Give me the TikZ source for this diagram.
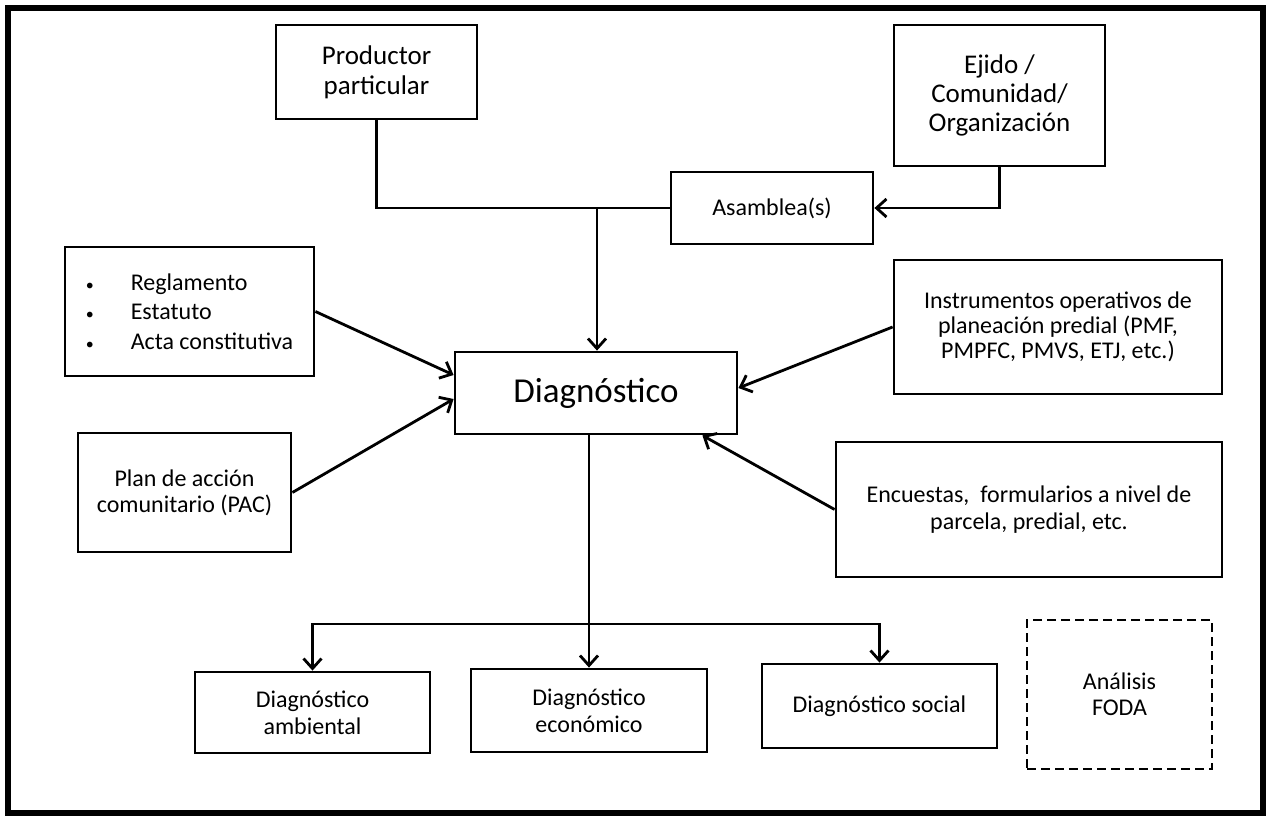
\documentclass[tikz,border=0pt]{standalone}
\usepackage{fontspec}
\setmainfont{Carlito}
\usetikzlibrary{arrows.meta}

\newcommand{\vineta}{{\fontsize{8}{8}\selectfont\textbullet}\hspace{18.5pt}}

\begin{document}
\begin{tikzpicture}[x=0.5pt, y=-0.5pt,
        caja/.style={draw, line width=1.4pt, align=center, inner sep=0pt},
        letra/.style={font=\fontsize{12}{#1}\selectfont},
        flecha/.style={line width=1.4pt, -{Straight Barb[length=5pt, width=9pt]}},
        linea/.style={line width=1.4pt}]
        \useasboundingbox (0,0) rectangle (1271,819);
        \draw[line width=2.6pt] (8,8) rectangle (1263,813);

        % fuentes de informacion
        \node[caja, minimum width=100.5pt, minimum height=47pt, font=\fontsize{13.5}{15}\selectfont] (prod) at (376.5,72) {Productor\\particular};
        \node[caja, minimum width=105.5pt, minimum height=70.5pt, font=\fontsize{13.5}{14.5}\selectfont] (ejido) at (999.5,95.5) {Ejido /\\Comunidad/\\Organización};
        \node[caja, letra=14, minimum width=101pt, minimum height=36pt] (asam) at (772,208) {Asamblea(s)};
        \node[caja, letra=14.75, align=left, minimum width=124.5pt, minimum height=64.5pt] (regl) at (189.5,311.5)
                {\vineta Reglamento\\\vineta Estatuto\\\vineta Acta constitutiva};
        \node[caja, letra=12.5, minimum width=164pt, minimum height=67pt] (instr) at (1058,327)
                {Instrumentos operativos de\\planeación predial (PMF,\\PMPFC, PMVS, ETJ, etc.)};
        \node[caja, letra=13, minimum width=106.5pt, minimum height=59.5pt] (plan) at (184.5,492.5) {Plan de acción\\comunitario (PAC)};
        \node[caja, letra=13.5, minimum width=193pt, minimum height=67.5pt] (enc) at (1029,509.5)
                {Encuestas,\ \ formularios a nivel de\\parcela, predial, etc.};

        % diagnostico
        \node[caja, minimum width=141pt, minimum height=41pt, font=\fontsize{17.5}{21}\selectfont] (diag) at (596,393) {Diagnóstico};
        \node[caja, letra=13.5, minimum width=117.5pt, minimum height=40.5pt] (amb) at (312.5,712.5) {Diagnóstico\\ambiental};
        \node[caja, letra=13.5, minimum width=118pt, minimum height=41.5pt] (eco) at (589,710.5) {Diagnóstico\\económico};
        \node[caja, letra=13.5, minimum width=117.5pt, minimum height=42pt] (soc) at (879.5,706) {Diagnóstico social};
        \node[caja, letra=13, dash pattern=on 4.5pt off 2.5pt, minimum width=92.5pt, minimum height=74.5pt] (foda) at (1119.5,694.5) {Análisis\\FODA};

        % conectores
        \coordinate (junta) at (597,208);
        \coordinate (reparto) at (589,624);
        \draw[linea] (prod.south) |- (asam.west);
        \draw[flecha] (ejido.south) |- (asam.east);
        \draw[flecha] (junta) -- (junta |- diag.north);
        \draw[flecha] (regl.east) -- ([yshift=9pt]diag.west);
        \draw[flecha] (plan.east) -- ([yshift=-3pt]diag.west);
        \draw[flecha] (instr.west) -- ([yshift=2.5pt]diag.east);
        \draw[flecha] (enc.west) -- ([xshift=-18pt]diag.south east);
        \draw[flecha] (eco.north |- diag.south) -- (eco.north);
        \draw[flecha] (reparto) -| (amb.north);
        \draw[flecha] (reparto) -| (soc.north);
\end{tikzpicture}
\end{document}
